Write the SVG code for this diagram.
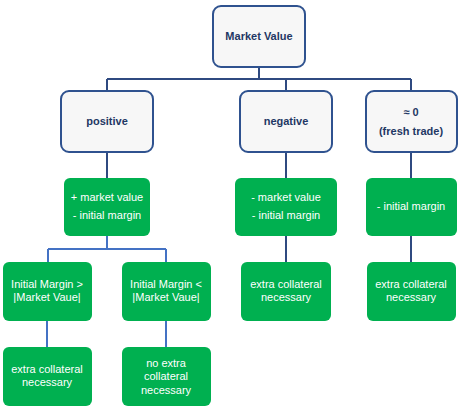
<svg xmlns="http://www.w3.org/2000/svg" width="465" height="410" viewBox="0 0 465 410">
<style>
.top{fill:#F7F7F7;stroke:#2F528F;stroke-width:2}
.g{fill:#00B050}
.tt{font-family:"Liberation Sans",Arial,sans-serif;font-size:11px;font-weight:bold;fill:#1F3864;text-anchor:middle}
.gt{font-family:"Liberation Sans",Arial,sans-serif;font-size:11px;fill:#FFFFFF;text-anchor:middle}
.c1{fill:none;stroke:#2F4A80;stroke-width:2}
.c2{fill:none;stroke:#4472C4;stroke-width:2}
</style>
<rect width="465" height="410" fill="#FFFFFF"/>
<g id="connectors">
<path class="c1" d="M259 67V79M107 79H411M107 79V91M286 79V91M411 79V91"/>
<path class="c1" d="M107 152V178M286 152V178M411 152V178"/>
<path class="c1" d="M286 236V262M411 236V262"/>
<path class="c2" d="M107 236V249M48 249H166M48 249V262M166 249V262"/>
<path class="c2" d="M47 321V347M166 321V347"/>
</g>
<g id="market-value"><rect class="top" x="213" y="6" width="92" height="61" rx="8"/><text class="tt" x="259" y="40">Market Value</text></g>
<g id="positive"><rect class="top" x="61" y="91" width="92" height="61" rx="8"/><text class="tt" x="107" y="125">positive</text></g>
<g id="negative"><rect class="top" x="240" y="91" width="92" height="61" rx="8"/><text class="tt" x="286" y="125">negative</text></g>
<g id="zero"><rect class="top" x="366" y="91" width="91" height="61" rx="8"/><text class="tt" x="411" y="116">≈ 0</text><text class="tt" x="411" y="135">(fresh trade)</text></g>
<g id="pos-mv"><rect class="g" x="64" y="178" width="86" height="58" rx="6"/><text class="gt" x="107" y="201">+ market value</text><text class="gt" x="107" y="219">- initial margin</text></g>
<g id="neg-mv"><rect class="g" x="235" y="178" width="102" height="58" rx="6"/><text class="gt" x="286" y="201">- market value</text><text class="gt" x="286" y="219">- initial margin</text></g>
<g id="zero-im"><rect class="g" x="366" y="178" width="91" height="58" rx="6"/><text class="gt" x="411" y="210">- initial margin</text></g>
<g id="im-greater"><rect class="g" x="3" y="262" width="89" height="59" rx="6"/><text class="gt" x="47" y="288">Initial Margin &gt;</text><text class="gt" x="47" y="301">|Market Vaue|</text></g>
<g id="im-less"><rect class="g" x="122" y="262" width="89" height="59" rx="6"/><text class="gt" x="166" y="288">Initial Margin &lt;</text><text class="gt" x="166" y="301">|Market Vaue|</text></g>
<g id="neg-extra"><rect class="g" x="241" y="262" width="90" height="59" rx="6"/><text class="gt" x="286" y="288">extra collateral</text><text class="gt" x="286" y="301">necessary</text></g>
<g id="zero-extra"><rect class="g" x="367" y="262" width="89" height="59" rx="6"/><text class="gt" x="411" y="288">extra collateral</text><text class="gt" x="411" y="301">necessary</text></g>
<g id="pos-extra"><rect class="g" x="3" y="347" width="89" height="59" rx="6"/><text class="gt" x="47" y="373">extra collateral</text><text class="gt" x="47" y="386">necessary</text></g>
<g id="pos-noextra"><rect class="g" x="122" y="347" width="89" height="59" rx="6"/><text class="gt" x="166" y="367">no extra</text><text class="gt" x="166" y="380">collateral</text><text class="gt" x="166" y="394">necessary</text></g>
</svg>
